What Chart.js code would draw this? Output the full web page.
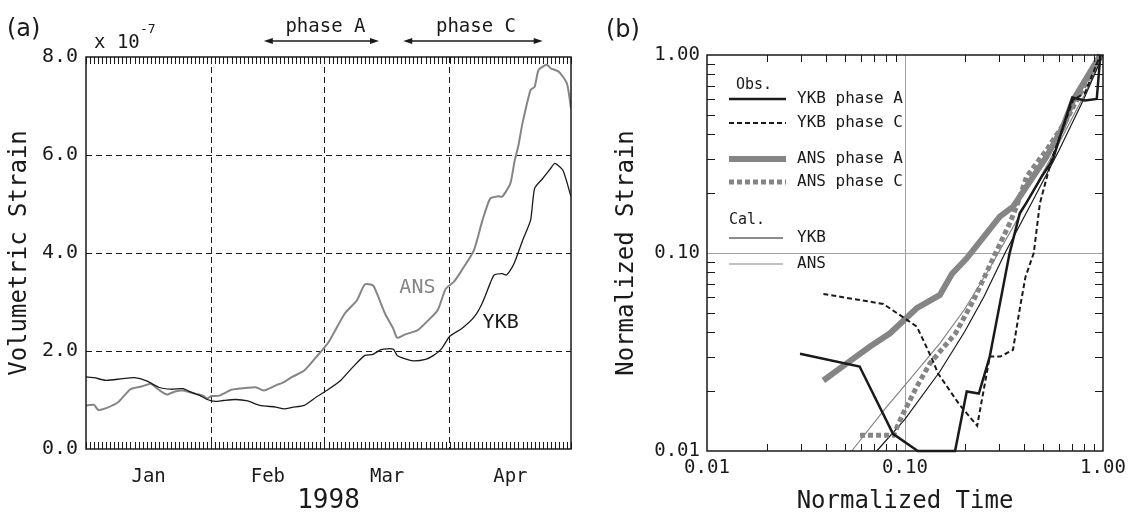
<!DOCTYPE html>
<html>
<head>
<meta charset="utf-8">
<script src="https://cdn.jsdelivr.net/npm/chart.js@4.4.0/dist/chart.umd.min.js"></script>
<style>
  body { margin: 0; background: #fff; }
  #chartA { position: absolute; left: 0; top: 0; }
  #chartB { position: absolute; left: 590px; top: 0; }
</style>
</head>
<body>
<canvas id="chartA" width="590" height="517"></canvas>
<canvas id="chartB" width="551" height="517"></canvas>
<script>
const MONO = "'DejaVu Sans Mono', monospace";
Chart.defaults.font.family = MONO;
Chart.defaults.color = '#1a1a1a';

// (a) volumetric strain (x 1e-7), day 0 = 1 Jan 1998
const ykbDays = [0, 2, 5, 9, 12, 15, 18, 21, 24, 26, 28, 30, 32, 34, 37, 40, 43, 47, 49, 51, 54, 57, 60, 63, 66, 69, 71, 73, 76, 77, 79, 81, 84, 86, 88, 90, 93, 96, 98, 100, 101, 103, 104, 105, 106, 108, 110, 111, 113, 115, 116, 118, 120];
const ykbStrain = [1.47, 1.455, 1.40, 1.435, 1.455, 1.39, 1.26, 1.22, 1.23, 1.16, 1.10, 1.01, 0.97, 0.99, 1.01, 0.98, 0.89, 0.855, 0.82, 0.85, 0.89, 1.06, 1.22, 1.40, 1.67, 1.91, 1.93, 2.03, 2.04, 1.91, 1.84, 1.80, 1.83, 1.91, 2.05, 2.30, 2.46, 2.69, 2.97, 3.38, 3.55, 3.58, 3.55, 3.65, 3.80, 4.25, 4.67, 5.32, 5.52, 5.73, 5.83, 5.69, 5.15];
const ansDays = [0, 2, 3, 5, 8, 11, 14, 16, 18, 20, 22, 24, 27, 29, 30, 31, 33, 36, 40, 42, 44, 47, 49, 51, 54, 57, 60, 64, 67, 69, 71, 72, 74, 76, 77, 79, 82, 84, 87, 89, 91, 93, 96, 98, 100, 102, 103, 105, 106, 107, 108, 110, 111, 112, 114, 115, 117, 119, 120];
const ansStrain = [0.89, 0.90, 0.80, 0.835, 0.96, 1.22, 1.28, 1.33, 1.21, 1.11, 1.175, 1.195, 1.13, 1.09, 1.03, 1.08, 1.09, 1.21, 1.25, 1.26, 1.195, 1.30, 1.365, 1.47, 1.60, 1.88, 2.18, 2.76, 3.03, 3.36, 3.34, 3.17, 2.76, 2.46, 2.27, 2.34, 2.42, 2.57, 2.83, 3.27, 3.41, 3.65, 4.06, 4.64, 5.11, 5.16, 5.15, 5.42, 5.86, 6.20, 6.65, 7.33, 7.39, 7.74, 7.84, 7.77, 7.70, 7.46, 6.95];

const monthEdges = [31, 59, 90];
const monthMids = [15.5, 45, 74.5, 105];
const monthNames = ['Jan', 'Feb', 'Mar', 'Apr'];
const phaseA = [44, 72.5];
const phaseC = [78.5, 113];

// (b) normalized time / normalized strain
const ykbA_t = [0.0295, 0.059, 0.087, 0.116, 0.179, 0.205, 0.236, 0.268, 0.337, 0.38, 0.41, 0.49, 0.557, 0.70, 0.81, 0.93, 0.97];
const ykbA_s = [0.031, 0.0267, 0.0122, 0.010, 0.010, 0.020, 0.0195, 0.030, 0.099, 0.159, 0.179, 0.243, 0.295, 0.61, 0.59, 0.60, 1.0];
const ykbC_t = [0.0387, 0.0777, 0.098, 0.1146, 0.1237, 0.139, 0.1466, 0.188, 0.2315, 0.268, 0.303, 0.351, 0.3815, 0.406, 0.447, 0.48, 0.549, 0.605, 0.706, 0.81, 0.97];
const ykbC_s = [0.0621, 0.0553, 0.0473, 0.0425, 0.0363, 0.0282, 0.0247, 0.0172, 0.0134, 0.030, 0.030, 0.0324, 0.0536, 0.0757, 0.100, 0.178, 0.295, 0.387, 0.592, 0.643, 1.0];
const ansA_t = [0.0387, 0.0508, 0.0666, 0.084, 0.1146, 0.150, 0.173, 0.2045, 0.258, 0.301, 0.3516, 0.411, 0.5185, 0.6285, 0.706, 0.97];
const ansA_s = [0.0227, 0.0277, 0.0337, 0.0393, 0.0526, 0.0614, 0.0787, 0.0937, 0.1257, 0.1525, 0.1713, 0.2163, 0.3064, 0.4345, 0.59, 1.0];
const ansC_t = [0.0593, 0.0873, 0.098, 0.1146, 0.1336, 0.180, 0.222, 0.291, 0.338, 0.3656, 0.411, 0.5185, 0.654, 0.97];
const ansC_s = [0.012, 0.012, 0.0155, 0.0211, 0.0277, 0.0393, 0.0578, 0.103, 0.1413, 0.1713, 0.243, 0.331, 0.47, 1.0];
const calYkb_t = [0.072, 0.10, 0.15, 0.20, 0.25, 0.32, 0.45, 0.60, 0.80, 1.0];
const calYkb_s = [0.010, 0.0145, 0.0252, 0.040, 0.060, 0.10, 0.19, 0.33, 0.60, 1.0];
const calAns_t = [0.0538, 0.08, 0.10, 0.15, 0.20, 0.27, 0.40, 0.60, 0.80, 1.0];
const calAns_s = [0.010, 0.0165, 0.0215, 0.035, 0.052, 0.085, 0.17, 0.36, 0.62, 1.0];
const logTicks = [0.01, 0.1, 1];

const BLACK = '#1a1a1a';
const GRAY = '#858585';
const NONE = 'rgba(0,0,0,0)';

function pairs(xs, ys) {
  return xs.map((x, i) => ({ x: x, y: ys[i] }));
}

function arrow(ctx, x1, x2, y) {
  ctx.beginPath();
  ctx.moveTo(x1 + 5, y);
  ctx.lineTo(x2 - 5, y);
  ctx.stroke();
  [[x1, 1], [x2, -1]].forEach(([x, dir]) => {
    ctx.beginPath();
    ctx.moveTo(x, y);
    ctx.lineTo(x + dir * 9, y - 3);
    ctx.lineTo(x + dir * 9, y + 3);
    ctx.closePath();
    ctx.fill();
  });
}

// frame, daily ticks and labels of panel (a)
const decorA = {
  id: 'decorA',
  afterDraw(chart) {
    const { ctx, chartArea: a, scales: { x, y } } = chart;
    ctx.save();
    ctx.strokeStyle = BLACK;
    ctx.fillStyle = BLACK;
    ctx.lineWidth = 1;
    for (let d = 0; d <= 120; d++) {
      const px = Math.round(x.getPixelForValue(d)) + 0.5;
      ctx.beginPath();
      ctx.moveTo(px, a.top);
      ctx.lineTo(px, a.top + 7);
      ctx.moveTo(px, a.bottom);
      ctx.lineTo(px, a.bottom - 7);
      ctx.stroke();
    }
    ctx.lineWidth = 1.5;
    ctx.strokeRect(a.left, a.top, a.right - a.left, a.bottom - a.top);

    ctx.textBaseline = 'middle';
    ctx.font = "24px 'DejaVu Sans', sans-serif";
    ctx.fillText('(a)', 7, 30);

    ctx.textBaseline = 'alphabetic';
    ctx.font = '19px ' + MONO;
    ctx.fillText('x 10', 94, 48);
    ctx.font = '13px ' + MONO;
    ctx.fillText('-7', 140, 33);

    ctx.textAlign = 'center';
    ctx.textBaseline = 'middle';
    ctx.font = '19px ' + MONO;
    const pa = phaseA.map(v => x.getPixelForValue(v));
    const pc = phaseC.map(v => x.getPixelForValue(v));
    ctx.fillText('phase A', (pa[0] + pa[1]) / 2 + 4, 27);
    ctx.fillText('phase C', (pc[0] + pc[1]) / 2 + 3, 27);
    ctx.lineWidth = 1.3;
    arrow(ctx, pa[0], pa[1], 41);
    arrow(ctx, pc[0], pc[1], 41);

    ctx.font = '20px ' + MONO;
    ctx.fillStyle = GRAY;
    ctx.fillText('ANS', x.getPixelForValue(82), y.getPixelForValue(3.28));
    ctx.fillStyle = BLACK;
    ctx.fillText('YKB', x.getPixelForValue(102.6), y.getPixelForValue(2.58));
    ctx.restore();
  }
};

new Chart(document.getElementById('chartA'), {
  type: 'line',
  data: {
    datasets: [
      { label: 'YKB', data: pairs(ykbDays, ykbStrain), borderColor: BLACK, borderWidth: 1.3, pointRadius: 0, tension: 0.2 },
      { label: 'ANS', data: pairs(ansDays, ansStrain), borderColor: GRAY, borderWidth: 2, pointRadius: 0, tension: 0.2 }
    ]
  },
  options: {
    responsive: false,
    animation: false,
    layout: { padding: { left: 0, right: 19, top: 57, bottom: 0 } },
    plugins: { legend: { display: false }, tooltip: { enabled: false } },
    scales: {
      x: {
        type: 'linear', min: 0, max: 120,
        afterFit: s => { s.height = 68; },
        afterBuildTicks: s => {
          s.ticks = monthEdges.concat(monthMids).sort((p, q) => p - q).map(v => ({ value: v }));
        },
        ticks: {
          autoSkip: false, maxRotation: 0, padding: 17, font: { size: 19 },
          callback: v => { const i = monthMids.indexOf(v); return i >= 0 ? monthNames[i] : ''; }
        },
        grid: { color: c => (c.tick && monthEdges.includes(c.tick.value)) ? BLACK : NONE, drawTicks: false, lineWidth: 1 },
        border: { display: false, dash: [6, 4] },
        title: { display: true, text: '1998', font: { size: 26, lineHeight: 1 }, padding: { top: 0, bottom: 3 } }
      },
      y: {
        min: 0, max: 8,
        afterFit: s => { s.width = 86; },
        ticks: { stepSize: 2, padding: 8, font: { size: 20 }, callback: v => v.toFixed(1) },
        grid: { color: c => (c.tick && c.tick.value > 0 && c.tick.value < 8) ? BLACK : NONE, drawTicks: false, lineWidth: 1 },
        border: { display: false, dash: [6, 4] },
        title: { display: true, text: 'Volumetric Strain', font: { size: 24, lineHeight: 1 }, padding: { top: 8, bottom: 0 } }
      }
    }
  },
  plugins: [decorA]
});

// frame, minor log ticks and legend of panel (b)
const decorB = {
  id: 'decorB',
  afterDraw(chart) {
    const { ctx, chartArea: a, scales: { x, y } } = chart;
    const ds = chart.data.datasets;
    ctx.save();
    ctx.strokeStyle = BLACK;
    ctx.fillStyle = BLACK;
    ctx.lineWidth = 1;
    [0.01, 0.1].forEach(dec => {
      for (let k = 2; k <= 9; k++) {
        const v = dec * k;
        const px = Math.round(x.getPixelForValue(v)) + 0.5;
        const py = Math.round(y.getPixelForValue(v)) + 0.5;
        ctx.beginPath();
        ctx.moveTo(px, a.top); ctx.lineTo(px, a.top + 7);
        ctx.moveTo(px, a.bottom); ctx.lineTo(px, a.bottom - 7);
        ctx.moveTo(a.left, py); ctx.lineTo(a.left + 8, py);
        ctx.moveTo(a.right, py); ctx.lineTo(a.right - 8, py);
        ctx.stroke();
      }
    });
    ctx.lineWidth = 1.5;
    ctx.strokeRect(a.left, a.top, a.right - a.left, a.bottom - a.top);

    ctx.textBaseline = 'middle';
    ctx.font = "24px 'DejaVu Sans', sans-serif";
    ctx.fillText('(b)', 16, 31);

    ctx.font = '15px ' + MONO;
    ctx.fillText('Obs.', a.left + 29, a.top + 30);
    ctx.fillText('Cal.', a.left + 22, a.top + 165);
    ctx.font = '16px ' + MONO;
    const rows = [[0, 44], [1, 68], [2, 104], [3, 127], [4, 183], [5, 209]];
    rows.forEach(([i, dy]) => {
      const d = ds[i];
      const yy = a.top + dy;
      ctx.save();
      ctx.strokeStyle = d.borderColor;
      ctx.lineWidth = d.borderWidth;
      ctx.setLineDash(d.borderDash || []);
      ctx.beginPath();
      ctx.moveTo(a.left + 22, yy);
      ctx.lineTo(a.left + (i < 4 ? 79 : 76), yy);
      ctx.stroke();
      ctx.restore();
      ctx.fillText(d.label, a.left + 90, yy);
    });
    ctx.restore();
  }
};

new Chart(document.getElementById('chartB'), {
  type: 'line',
  data: {
    datasets: [
      { label: 'YKB phase A', data: pairs(ykbA_t, ykbA_s), borderColor: BLACK, borderWidth: 2.5 },
      { label: 'YKB phase C', data: pairs(ykbC_t, ykbC_s), borderColor: BLACK, borderWidth: 2, borderDash: [5, 3] },
      { label: 'ANS phase A', data: pairs(ansA_t, ansA_s), borderColor: GRAY, borderWidth: 6 },
      { label: 'ANS phase C', data: pairs(ansC_t, ansC_s), borderColor: GRAY, borderWidth: 5, borderDash: [5, 3] },
      { label: 'YKB', data: pairs(calYkb_t, calYkb_s), borderColor: BLACK, borderWidth: 1.2 },
      { label: 'ANS', data: pairs(calAns_t, calAns_s), borderColor: GRAY, borderWidth: 1.2 }
    ]
  },
  options: {
    responsive: false,
    animation: false,
    datasets: { line: { pointRadius: 0, tension: 0, clip: 6 } },
    layout: { padding: { left: 0, right: 38, top: 55, bottom: 0 } },
    plugins: { legend: { display: false }, tooltip: { enabled: false } },
    scales: {
      x: {
        type: 'logarithmic', min: 0.01, max: 1,
        afterFit: s => { s.height = 66; },
        afterBuildTicks: s => { s.ticks = logTicks.map(v => ({ value: v })); },
        ticks: { autoSkip: false, maxRotation: 0, padding: 6, font: { size: 19 }, callback: v => Number(v).toFixed(2) },
        grid: { color: c => (c.tick && c.tick.value === 0.1) ? '#a0a0a0' : NONE, drawTicks: false, lineWidth: 1 },
        border: { display: false },
        title: { display: true, text: 'Normalized Time', font: { size: 24, lineHeight: 1 }, padding: { top: 0, bottom: 3 } }
      },
      y: {
        type: 'logarithmic', min: 0.01, max: 1,
        afterFit: s => { s.width = 117; },
        afterBuildTicks: s => { s.ticks = logTicks.map(v => ({ value: v })); },
        ticks: { autoSkip: false, padding: 7, font: { size: 19 }, callback: v => Number(v).toFixed(2) },
        grid: { color: c => (c.tick && c.tick.value === 0.1) ? '#a0a0a0' : NONE, drawTicks: false, lineWidth: 1 },
        border: { display: false },
        title: { display: true, text: 'Normalized Strain', font: { size: 24, lineHeight: 1 }, padding: { top: 25, bottom: 0 } }
      }
    }
  },
  plugins: [decorB]
});
</script>
</body>
</html>
